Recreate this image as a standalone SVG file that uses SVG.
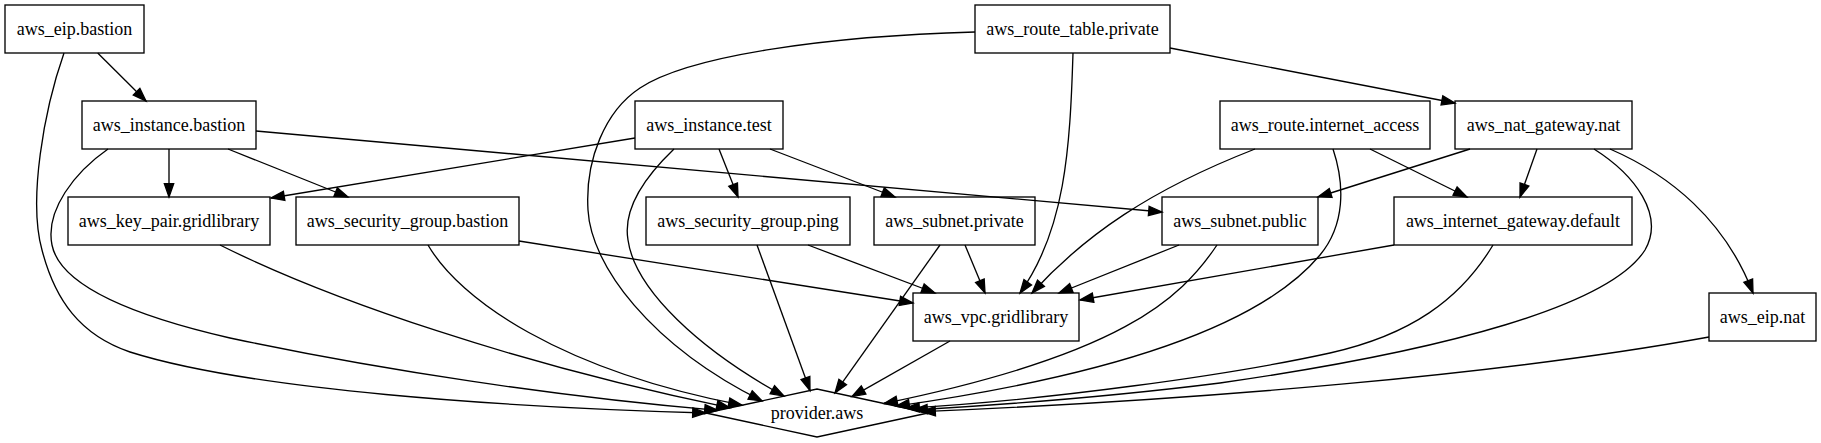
<svg xmlns="http://www.w3.org/2000/svg" width="1821" height="443" viewBox="0 0 1821 443">
<style>
.node rect, .node polygon { fill: none; stroke: #000; stroke-width: 1.33; }
.node text { font-family: "Liberation Serif", "Times New Roman", serif; font-size: 18px; text-anchor: middle; fill: #000; }
.edges path { fill: none; stroke: #000; stroke-width: 1.33; marker-end: url(#ah); }
</style>
<defs>
<marker id="ah" markerUnits="userSpaceOnUse" markerWidth="16" markerHeight="12" refX="13.3" refY="4.67" orient="auto" overflow="visible">
<path d="M0,0 L13.3,4.67 L0,9.33 z" fill="#000" stroke="#000" stroke-width="1.33"/>
</marker>
</defs>
<rect x="0" y="0" width="1821" height="443" fill="#fff"/>
<g class="edges" id="connectors">
<path d="M97.7,53 L146,101"/>
<path d="M64,53 C44,110 28,200 42,250 C55,300 80,335 130,352 C250,390 500,407 706,413"/>
<path d="M169,149 L169,197"/>
<path d="M228,149 L348,197"/>
<path d="M256,131 C600,160 900,190 1162,212"/>
<path d="M108,149 C75,172 45,210 52,245 C60,285 130,315 230,338 C380,370 560,397 718,410.4"/>
<path d="M635,138 L271,198"/>
<path d="M719,149 L738,197"/>
<path d="M770,149 L895,197"/>
<path d="M674,149 C650,172 622,205 628,240 C635,290 700,350 784,396.1"/>
<path d="M1170,48 L1455,103"/>
<path d="M1073,53 C1070,150 1065,230 1020,293"/>
<path d="M975,32 C830,36 690,55 640,88 C605,111 585,160 588,210 C591,265 650,345 762,400.9"/>
<path d="M1255,149 C1150,190 1085,235 1032,293"/>
<path d="M1370,149 L1467,197"/>
<path d="M1333,149 C1345,185 1345,225 1320,255 C1270,315 1150,370 896,406.1"/>
<path d="M1470,149 L1318,197"/>
<path d="M1537,149 L1520,197"/>
<path d="M1610,149 C1670,175 1725,220 1753,293"/>
<path d="M1594,149 C1635,175 1665,215 1645,250 C1610,305 1450,350 1220,383 C1100,398 1000,405 914,410"/>
<path d="M220,245 C330,300 520,365 730,407.8"/>
<path d="M519,241 L913,303"/>
<path d="M428,245 C460,300 560,370 742,405.2"/>
<path d="M808,245 L935,293"/>
<path d="M757,245 L810,390.5"/>
<path d="M965,245 L985,293"/>
<path d="M940,245 L835,392.9"/>
<path d="M1179,245 L1059,293"/>
<path d="M1217,245 C1180,300 1120,355 884,403.5"/>
<path d="M1394,245 L1080,300"/>
<path d="M1493,245 C1460,300 1410,335 1330,353 C1230,375 1050,400 906,408.2"/>
<path d="M950,341 L852,396.6"/>
<path d="M1709,337 C1500,375 1200,400 922,411.7"/>
</g>
<g class="node" id="aws_eip.bastion"><rect x="5" y="5" width="139" height="48"/><text x="74.5" y="34.5">aws_eip.bastion</text></g>
<g class="node" id="aws_route_table.private"><rect x="975" y="5" width="195" height="48"/><text x="1072.5" y="34.5">aws_route_table.private</text></g>
<g class="node" id="aws_instance.bastion"><rect x="82" y="101" width="174" height="48"/><text x="169" y="130.5">aws_instance.bastion</text></g>
<g class="node" id="aws_instance.test"><rect x="635" y="101" width="148" height="48"/><text x="709" y="130.5">aws_instance.test</text></g>
<g class="node" id="aws_route.internet_access"><rect x="1220" y="101" width="210" height="48"/><text x="1325" y="130.5">aws_route.internet_access</text></g>
<g class="node" id="aws_nat_gateway.nat"><rect x="1455" y="101" width="177" height="48"/><text x="1543.5" y="130.5">aws_nat_gateway.nat</text></g>
<g class="node" id="aws_key_pair.gridlibrary"><rect x="68" y="197" width="202" height="48"/><text x="169" y="226.5">aws_key_pair.gridlibrary</text></g>
<g class="node" id="aws_security_group.bastion"><rect x="296" y="197" width="223" height="48"/><text x="407.5" y="226.5">aws_security_group.bastion</text></g>
<g class="node" id="aws_security_group.ping"><rect x="646" y="197" width="204" height="48"/><text x="748" y="226.5">aws_security_group.ping</text></g>
<g class="node" id="aws_subnet.private"><rect x="874" y="197" width="161" height="48"/><text x="954.5" y="226.5">aws_subnet.private</text></g>
<g class="node" id="aws_subnet.public"><rect x="1162" y="197" width="156" height="48"/><text x="1240" y="226.5">aws_subnet.public</text></g>
<g class="node" id="aws_internet_gateway.default"><rect x="1394" y="197" width="238" height="48"/><text x="1513" y="226.5">aws_internet_gateway.default</text></g>
<g class="node" id="aws_vpc.gridlibrary"><rect x="913" y="293" width="166" height="48"/><text x="996" y="322.5">aws_vpc.gridlibrary</text></g>
<g class="node" id="aws_eip.nat"><rect x="1709" y="293" width="107" height="48"/><text x="1762.5" y="322.5">aws_eip.nat</text></g>
<g class="node" id="provider.aws"><polygon points="706,413 817,389 928,413 817,437"/><text x="817" y="418.5">provider.aws</text></g>
</svg>
